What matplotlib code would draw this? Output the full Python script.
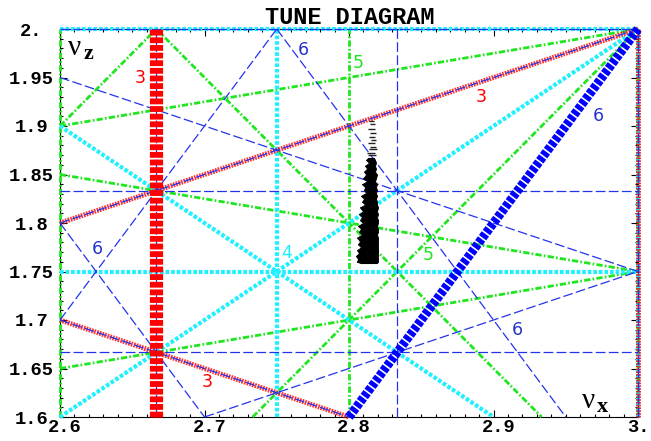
import numpy as np
import matplotlib
matplotlib.use('Agg')
import matplotlib.pyplot as plt
from matplotlib.transforms import ScaledTranslation

plt.rcParams['lines.scale_dashes'] = False

# ---------------- data ----------------
nux_range = [2.6, 3.0]
nuz_range = [1.6, 2.0]

# resonance lines  m*nux + n*nuz = p
order3_m = [1, 1, 3]
order3_n = [2, -2, 0]
order3_p = [6, -1, 9]

order4_m = [4, 4, 0, 0, 2, 2]
order4_n = [0, 0, 4, 4, 2, -2]
order4_p = [11, 12, 7, 8, 9, 2]

order5_m = [5, 5, 5, 3, 3, 3, 1, 1, 1]
order5_n = [0, 0, 0, 2, -2, -2, 4, -4, -4]
order5_p = [13, 14, 15, 12, 4, 5, 10, -4, -5]

order6_m = [6, 6, 6, 0, 0, 0, 4, 4, 4, 2, 2, 2, 2]
order6_n = [0, 0, 0, 6, 6, 6, 2, 2, -2, 4, 4, -4, -4]
order6_p = [16, 17, 18, 10, 11, 12, 14, 15, 7, 12, 13, -1, -2]

# systematic (highlighted) resonances
sys3_m, sys3_n, sys3_p = [3], [0], [8]
sys6_m, sys6_n, sys6_p = [4], [-2], [8]

# resonance order labels
label_text = ['3', '6', '5', '3', '6', '6', '4', '5', '6', '3']
label_order = [3, 6, 5, 3, 6, 6, 4, 5, 6, 3]
label_nux = [2.6554, 2.7682, 2.8062, 2.8913, 2.9723, 2.6256, 2.7571, 2.8547, 2.9163, 2.7017]
label_nuz = [1.9495, 1.9784, 1.9650, 1.9299, 1.9103, 1.7732, 1.7690, 1.7670, 1.6897, 1.6360]

# tune footprint (dense part): nuz level, left and right nux extents
fp_nuz = [1.867, 1.865, 1.862, 1.859, 1.856, 1.853, 1.850, 1.846, 1.843, 1.840,
          1.837, 1.834, 1.831, 1.828, 1.825, 1.822, 1.819, 1.816, 1.812, 1.809,
          1.806, 1.803, 1.800, 1.797, 1.794, 1.791, 1.788, 1.785, 1.781, 1.778,
          1.775, 1.772, 1.769, 1.766, 1.763, 1.760, 1.759]
fp_left = [2.8131, 2.8118, 2.8138, 2.8111, 2.8125, 2.8104, 2.8118, 2.8097, 2.8125, 2.8090,
           2.8111, 2.8104, 2.8118, 2.8083, 2.8104, 2.8090, 2.8111, 2.8076, 2.8097, 2.8069,
           2.8090, 2.8076, 2.8097, 2.8062, 2.8083, 2.8069, 2.8090, 2.8055, 2.8076, 2.8062,
           2.8083, 2.8055, 2.8069, 2.8048, 2.8062, 2.8055, 2.8076]
fp_right = [2.8173, 2.8180, 2.8187, 2.8180, 2.8187, 2.8180, 2.8194, 2.8187, 2.8180, 2.8194,
            2.8187, 2.8194, 2.8187, 2.8194, 2.8187, 2.8194, 2.8194, 2.8201, 2.8194, 2.8201,
            2.8194, 2.8201, 2.8201, 2.8194, 2.8201, 2.8201, 2.8194, 2.8201, 2.8201, 2.8201,
            2.8201, 2.8201, 2.8201, 2.8201, 2.8201, 2.8201, 2.8194]
# sparse upper part of the footprint
top_nuz = [1.905, 1.902, 1.897, 1.893, 1.889, 1.886, 1.882, 1.878, 1.876, 1.872, 1.870]
top_left = [2.8140, 2.8145, 2.8131, 2.8145, 2.8138, 2.8152, 2.8131, 2.8145, 2.8138, 2.8125, 2.8131]
top_right = [2.8173, 2.8180, 2.8180, 2.8187, 2.8180, 2.8187, 2.8180, 2.8187, 2.8194, 2.8180, 2.8187]

nux_ticks = [2.6, 2.7, 2.8, 2.9, 3.0]
nux_ticklabels = ['2.6', '2.7', '2.8', '2.9', '3.']
nuz_ticks = [1.6, 1.65, 1.7, 1.75, 1.8, 1.85, 1.9, 1.95, 2.0]
nuz_ticklabels = ['1.6', '1.65', '1.7', '1.75', '1.8', '1.85', '1.9', '1.95', '2.']

# ---------------- helpers ----------------
def segment(m, n, p):
    x0, x1 = nux_range
    y0, y1 = nuz_range
    eps = 1e-9
    if n == 0:
        x = p / m
        return [x, x], [y0, y1]
    if m == 0:
        y = p / n
        return [x0, x1], [y, y]
    pts = []
    for x in (x0, x1):
        y = (p - m * x) / n
        if y0 - eps <= y <= y1 + eps:
            pts.append((x, y))
    for y in (y0, y1):
        x = (p - n * y) / m
        if x0 - eps <= x <= x1 + eps:
            pts.append((x, y))
    pts = sorted(set((round(a, 9), round(b, 9)) for a, b in pts))
    if len(pts) < 2:
        return None
    (xa, ya), (xb, yb) = pts[0], pts[-1]
    return [xa, xb], [ya, yb]


def draw_family(ax, ms, ns, ps, **kw):
    for m, n, p in zip(ms, ns, ps):
        seg = segment(m, n, p)
        if seg is None:
            continue
        ax.plot(seg[0], seg[1], clip_on=False, solid_capstyle='butt',
                dash_capstyle='butt', **kw)

# ---------------- figure ----------------
fig = plt.figure(figsize=(6.51, 4.41), dpi=100)
ax = fig.add_axes([60 / 651, 24 / 441, 578 / 651, 388 / 441])
ax.set_xlim(*nux_range)
ax.set_ylim(*nuz_range)

GREEN = '#1fe61f'
CYAN = '#1ef0ff'
RED = '#ff0000'
BLUE = '#2233ee'

draw_family(ax, order5_m, order5_n, order5_p, color=GREEN, lw=2.0,
            linestyle=(0, (4.5, 1.6, 1.2, 1.6)), zorder=2)
draw_family(ax, order4_m, order4_n, order4_p, color=CYAN, lw=3.0,
            linestyle=(0, (2.6, 1.4)), zorder=3)
draw_family(ax, order3_m, order3_n, order3_p, color=RED, lw=3.6,
            linestyle=(0, (1.2, 0.8)), alpha=0.8, zorder=4)
draw_family(ax, order6_m, order6_n, order6_p, color=BLUE, lw=0.9,
            linestyle=(0, (7.0, 2.4)), zorder=5)
draw_family(ax, sys3_m, sys3_n, sys3_p, color=RED, lw=9.5,
            linestyle=(0, (4.2, 1.3)), zorder=6)
draw_family(ax, sys6_m, sys6_n, sys6_p, color='#0000ff', lw=6.5,
            linestyle=(0, (3.4, 1.2)), zorder=6)

# tune footprint
ax.fill_betweenx(fp_nuz, fp_left, fp_right, color='black', lw=0.6, zorder=7)
ax.hlines(fp_nuz, fp_left, fp_right, color='black', lw=0.8, zorder=7)
ax.hlines(top_nuz, top_left, top_right, color='#222222', lw=1.0, zorder=7)

# labels
order_color = {3: RED, 4: CYAN, 5: GREEN, 6: '#2233cc'}
for t, o, x, y in zip(label_text, label_order, label_nux, label_nuz):
    ax.text(x, y, t, color=order_color[o], fontsize=12.5, family='DejaVu Sans',
            ha='center', va='center', zorder=8)

# axis names inside the frame
fig.text(75 / 651, 1 - 48 / 441, 'ν', fontsize=21, family='Liberation Serif',
         ha='center', va='center')
fig.text(88.5 / 651, 1 - 54 / 441, 'z', fontsize=16, family='Liberation Serif',
         weight='bold', ha='center', va='center')
fig.text(589 / 651, 1 - 401 / 441, 'ν', fontsize=21, family='Liberation Serif',
         ha='center', va='center')
fig.text(602.5 / 651, 1 - 407 / 441, 'x', fontsize=16, family='Liberation Serif',
         weight='bold', ha='center', va='center')

# title
fig.text(350 / 651, 1 - 17 / 441, 'TUNE DIAGRAM', fontsize=17, family='Liberation Mono',
         weight='bold', ha='center', va='center')

# ticks
ax.set_xticks(nux_ticks)
ax.set_xticklabels(nux_ticklabels)
ax.set_xticks(np.round(np.arange(2.6, 3.0001, 0.01), 3), minor=True)
ax.set_yticks(nuz_ticks)
ax.set_yticklabels(nuz_ticklabels)
ax.set_yticks(np.round(np.arange(1.6, 2.0001, 0.01), 3), minor=True)
ax.tick_params(which='both', direction='in', top=True, right=True, width=0.8,
               color='black')
ax.tick_params(which='major', length=5)
ax.tick_params(which='minor', length=2.5)
ax.tick_params(axis='x', which='major', pad=1.5)
ax.tick_params(axis='y', which='major', pad=20.5)
xlabs = ax.get_xticklabels()
for i, lab in enumerate(xlabs):
    lab.set_family('Liberation Mono')
    lab.set_weight('bold')
    lab.set_fontsize(13.5)
    shift = 5 if i < len(xlabs) - 1 else 0
    lab.set_transform(lab.get_transform() + ScaledTranslation(shift / 100, 0, fig.dpi_scale_trans))
for lab in ax.get_yticklabels():
    lab.set_family('Liberation Mono')
    lab.set_weight('bold')
    lab.set_fontsize(13.5)
    lab.set_horizontalalignment('center')
for sp in ax.spines.values():
    sp.set_linewidth(0.8)
    sp.set_zorder(1)

fig.savefig('out.png', dpi=100)
